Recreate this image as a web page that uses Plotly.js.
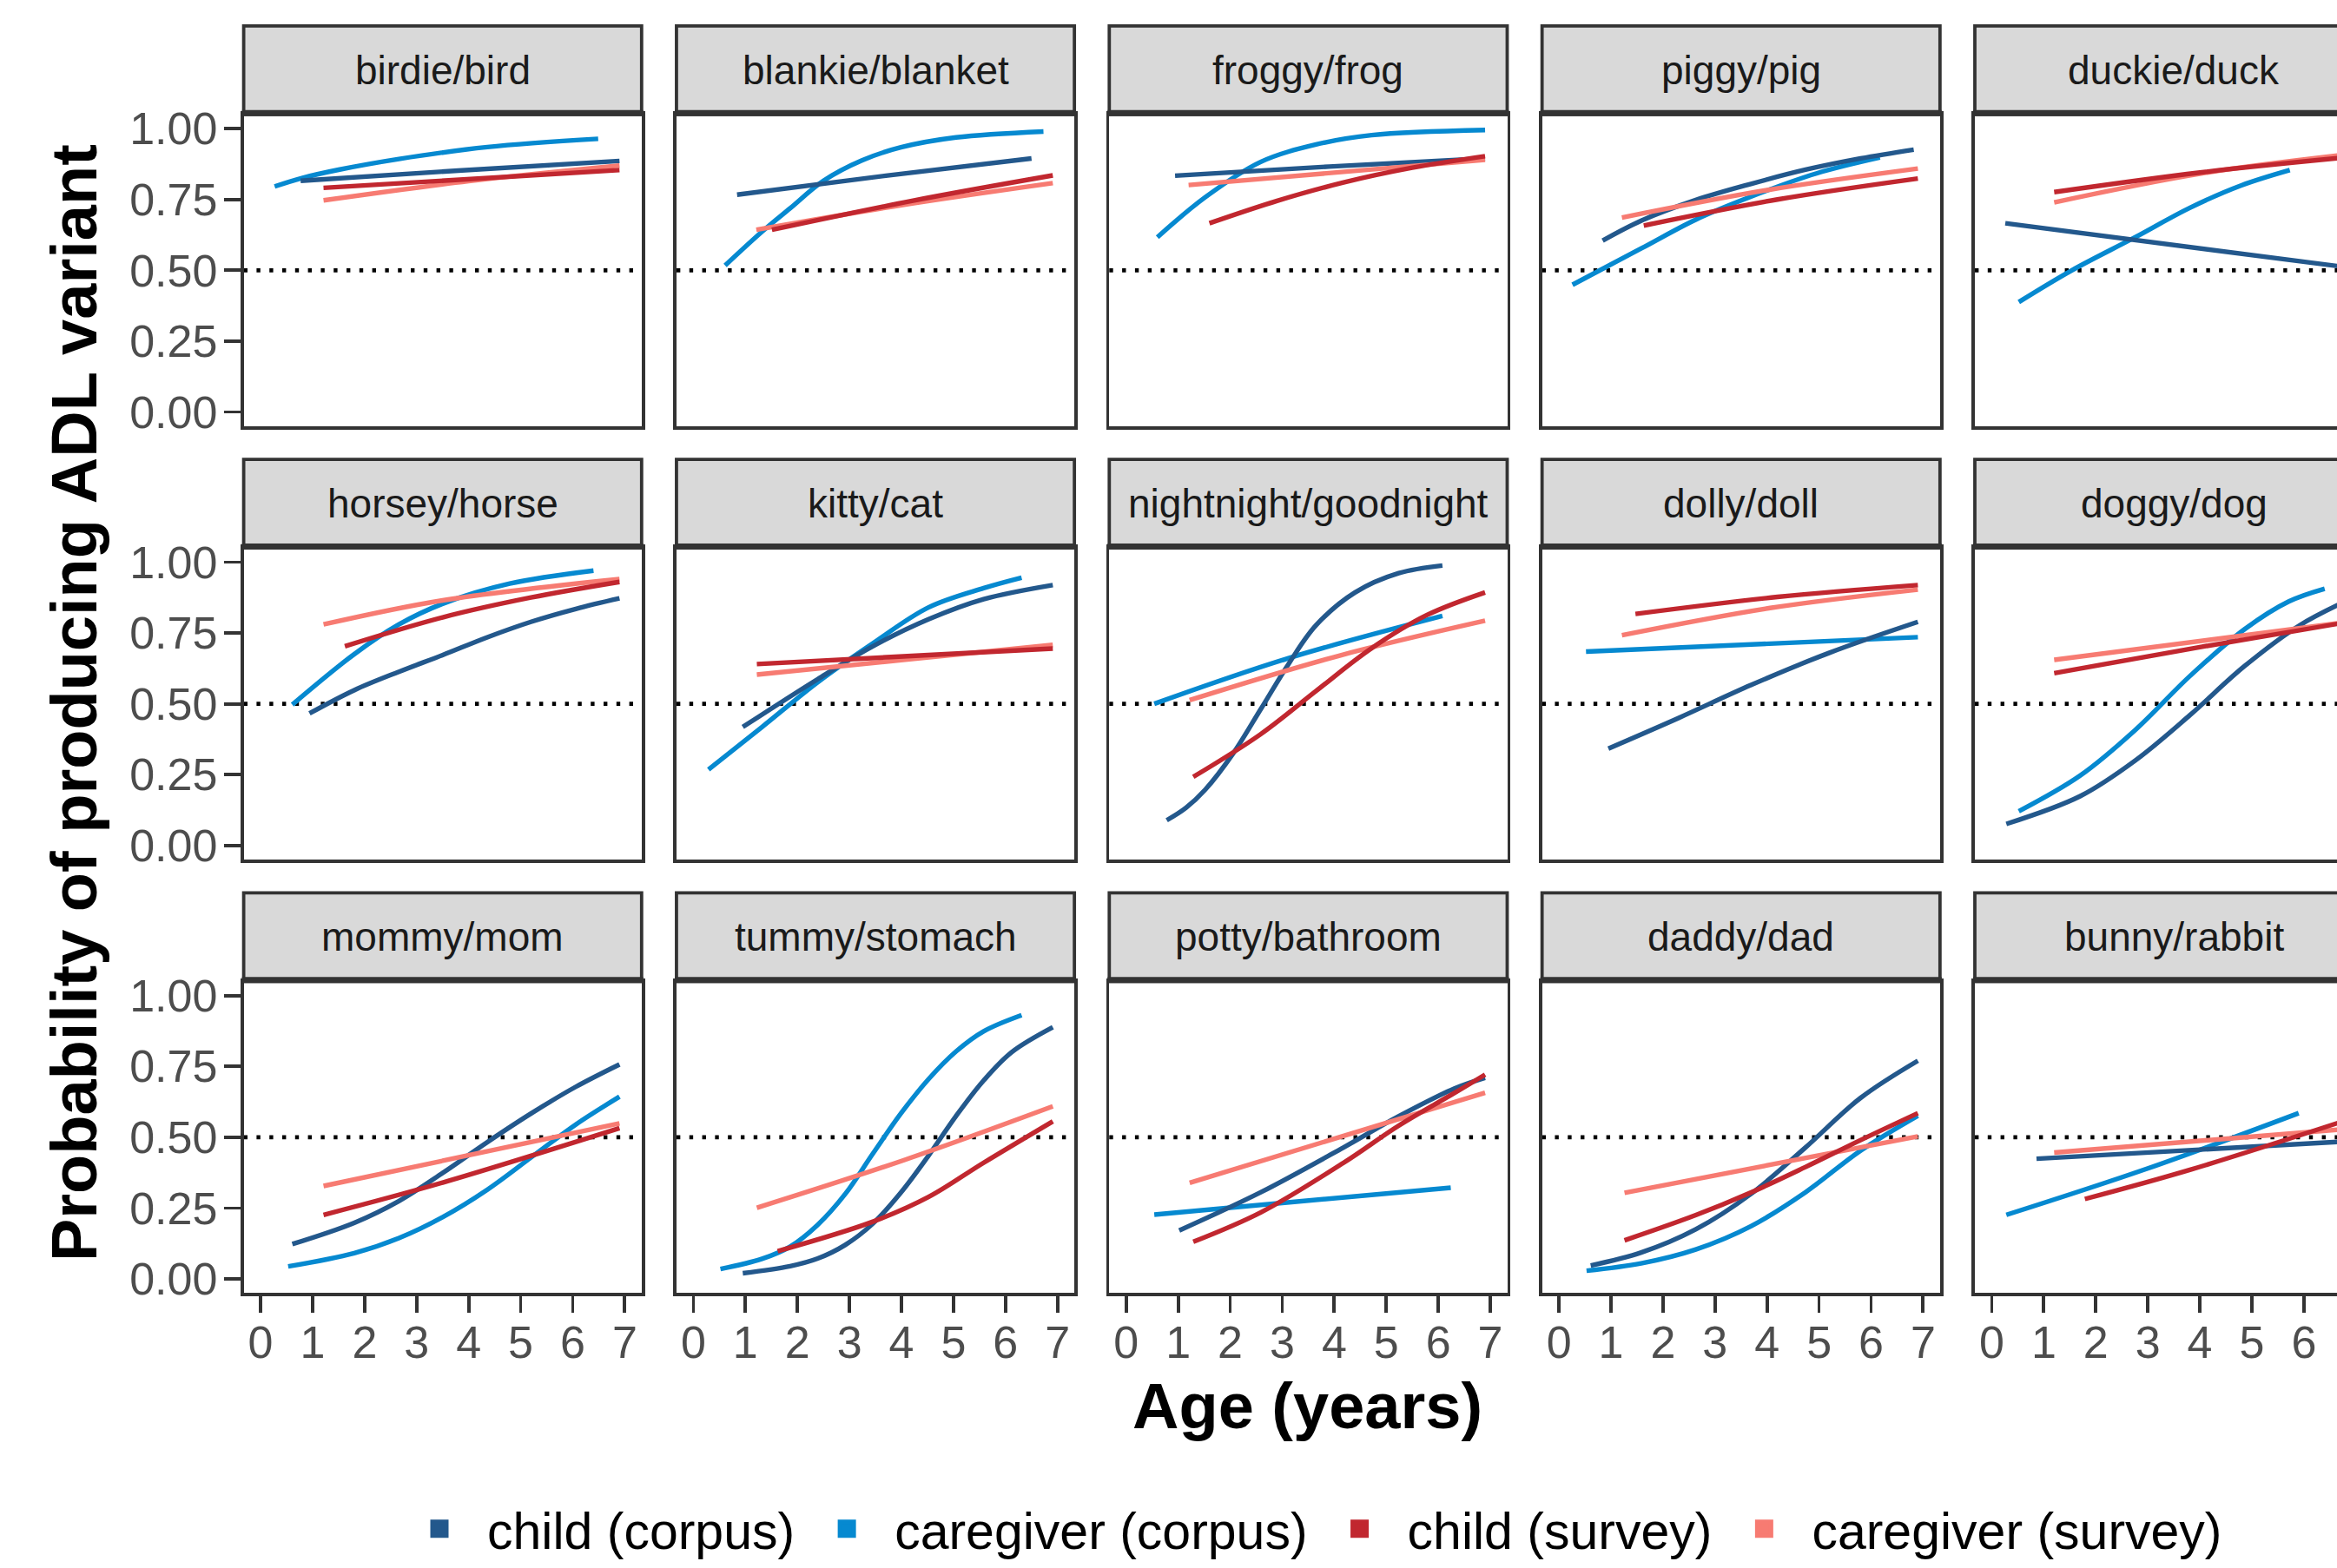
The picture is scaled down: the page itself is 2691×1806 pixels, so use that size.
<!DOCTYPE html>
<html>
<head>
<meta charset="utf-8">
<script src="https://cdn.plot.ly/plotly-3.0.1.min.js"></script>
<style>
  html, body { margin: 0; padding: 0; overflow: hidden; background: #ffffff; }
  #wrap { width: 2691px; height: 1806px; overflow: hidden; position: relative; }
  #chart { width: 2760px; height: 1806px; }
</style>
</head>
<body>
<div id="wrap"><div id="chart"></div></div>
<script>
// ---------------- data ----------------
const panels = ["birdie/bird", "blankie/blanket", "froggy/frog", "piggy/pig", "duckie/duck",
  "horsey/horse", "kitty/cat", "nightnight/goodnight", "dolly/doll", "doggy/dog",
  "mommy/mom", "tummy/stomach", "potty/bathroom", "daddy/dad", "bunny/rabbit"];

const seriesNames = ["child (corpus)", "caregiver (corpus)", "child (survey)", "caregiver (survey)"];

const yTickValues = [0, 0.25, 0.5, 0.75, 1];
const yTickLabels = ["0.00", "0.25", "0.50", "0.75", "1.00"];
const xTickValues = [0, 1, 2, 3, 4, 5, 6, 7];
const xTickLabels = ["0", "1", "2", "3", "4", "5", "6", "7"];

const xAxisTitle = "Age (years)";
const yAxisTitle = "Probability of producing ADL variant";

// child (corpus)
const childCorpusAge = [
  [0.77, 3.8, 6.9],
  [0.84, 3.7, 6.5],
  [0.94, 3.9, 6.9],
  [0.84, 1.58, 2.63, 3.69, 4.74, 5.8, 6.82],
  [0.26, 6.9],
  [0.94, 1.8, 2.66, 3.5, 4.36, 5.21, 6.06, 6.9],
  [0.95, 2.39, 3.45, 4.52, 5.58, 6.91],
  [0.78, 1.15, 1.52, 2.05, 2.59, 3.12, 3.65, 4.4, 5.24, 6.08],
  [0.95, 2.3, 3.69, 5.2, 6.9],
  [0.28, 1.7, 2.76, 3.81, 4.86, 5.92, 6.9],
  [0.61, 1.8, 2.66, 3.5, 4.36, 5.21, 6.06, 6.9],
  [0.95, 1.86, 2.39, 2.92, 3.45, 3.99, 4.52, 5.05, 5.58, 6.12, 6.91],
  [1.02, 2.59, 4.18, 5.24, 6.31, 6.9],
  [0.61, 1.58, 2.63, 3.69, 4.74, 5.8, 6.9],
  [0.86, 6.9]
];
const childCorpusProb = [
  [0.816, 0.852, 0.886],
  [0.767, 0.834, 0.895],
  [0.834, 0.866, 0.895],
  [0.605, 0.675, 0.748, 0.805, 0.855, 0.895, 0.926],
  [0.666, 0.509],
  [0.466, 0.548, 0.613, 0.672, 0.735, 0.79, 0.835, 0.872],
  [0.418, 0.587, 0.703, 0.798, 0.869, 0.919],
  [0.089, 0.133, 0.197, 0.323, 0.482, 0.64, 0.777, 0.893, 0.961, 0.988],
  [0.342, 0.45, 0.566, 0.68, 0.789],
  [0.076, 0.174, 0.30, 0.46, 0.633, 0.777, 0.87],
  [0.123, 0.198, 0.275, 0.374, 0.483, 0.585, 0.678, 0.757],
  [0.02, 0.045, 0.072, 0.12, 0.195, 0.305, 0.435, 0.575, 0.70, 0.80, 0.888],
  [0.171, 0.306, 0.464, 0.574, 0.672, 0.71],
  [0.047, 0.093, 0.175, 0.3, 0.464, 0.639, 0.77],
  [0.424, 0.486]
];

// caregiver (corpus)
const caregiverCorpusAge = [
  [0.27, 0.78, 1.5, 2.66, 4.36, 6.49],
  [0.61, 1.33, 1.86, 2.5, 3.24, 3.99, 5.05, 6.73],
  [0.6, 1.52, 2.59, 3.65, 4.72, 6.9],
  [0.26, 1.58, 2.63, 3.69, 4.95, 6.17],
  [0.52, 1.54, 2.76, 3.8, 4.8, 5.73],
  [0.61, 1.8, 2.66, 3.5, 4.79, 6.4],
  [0.29, 1.32, 2.39, 3.45, 4.52, 5.58, 6.31],
  [0.54, 3.12, 6.08],
  [0.52, 6.9],
  [0.52, 1.7, 2.76, 3.81, 4.86, 5.71, 6.4],
  [0.53, 1.8, 2.66, 3.5, 4.36, 5.21, 6.06, 6.9],
  [0.52, 1.32, 1.86, 2.39, 2.92, 3.45, 3.99, 4.52, 5.05, 5.58, 6.31],
  [0.54, 6.24],
  [0.53, 1.58, 2.63, 3.69, 4.74, 5.8, 6.9],
  [0.28, 3.0, 5.9]
];
const caregiverCorpusProb = [
  [0.796, 0.825, 0.855, 0.893, 0.935, 0.964],
  [0.517, 0.638, 0.719, 0.816, 0.888, 0.934, 0.969, 0.99],
  [0.617, 0.758, 0.883, 0.944, 0.977, 0.995],
  [0.449, 0.577, 0.679, 0.76, 0.842, 0.898],
  [0.388, 0.5, 0.617, 0.72, 0.8, 0.854],
  [0.497, 0.675, 0.78, 0.853, 0.924, 0.97],
  [0.268, 0.418, 0.576, 0.713, 0.84, 0.908, 0.945],
  [0.50, 0.661, 0.81],
  [0.684, 0.735],
  [0.121, 0.247, 0.408, 0.598, 0.763, 0.861, 0.906],
  [0.044, 0.091, 0.144, 0.218, 0.315, 0.43, 0.545, 0.643],
  [0.035, 0.071, 0.114, 0.191, 0.3, 0.442, 0.584, 0.705, 0.803, 0.874, 0.931],
  [0.227, 0.322],
  [0.029, 0.055, 0.104, 0.186, 0.306, 0.453, 0.576],
  [0.226, 0.39, 0.585]
];

// child (survey)
const childSurveyAge = [
  [1.21, 6.9],
  [1.51, 4.2, 6.91],
  [1.6, 2.9, 4.18, 5.5, 6.9],
  [1.63, 4.2, 6.9],
  [1.2, 4.0, 6.9],
  [1.62, 3.5, 5.2, 6.9],
  [1.22, 6.91],
  [1.29, 2.58, 3.65, 4.71, 5.78, 6.9],
  [1.47, 4.2, 6.9],
  [1.2, 4.0, 6.9],
  [1.21, 3.5, 6.9],
  [1.62, 3.45, 4.52, 5.58, 6.91],
  [1.29, 2.59, 4.18, 5.24, 6.31, 6.9],
  [1.26, 2.63, 3.69, 4.74, 5.8, 6.9],
  [1.79, 3.81, 6.9]
];
const childSurveyProb = [
  [0.791, 0.854],
  [0.643, 0.745, 0.835],
  [0.666, 0.745, 0.81, 0.862, 0.903],
  [0.658, 0.75, 0.824],
  [0.776, 0.845, 0.9],
  [0.703, 0.805, 0.875, 0.93],
  [0.64, 0.695],
  [0.242, 0.392, 0.545, 0.695, 0.813, 0.893],
  [0.817, 0.877, 0.919],
  [0.608, 0.70, 0.79],
  [0.226, 0.34, 0.532],
  [0.098, 0.202, 0.289, 0.41, 0.556],
  [0.131, 0.235, 0.41, 0.541, 0.656, 0.721],
  [0.136, 0.225, 0.305, 0.395, 0.49, 0.585],
  [0.282, 0.385, 0.565]
];

// caregiver (survey)
const caregiverSurveyAge = [
  [1.21, 4.0, 6.9],
  [1.21, 4.0, 6.91],
  [1.2, 6.9],
  [1.21, 4.0, 6.9],
  [1.2, 4.0, 6.9],
  [1.21, 3.5, 6.9],
  [1.22, 6.91],
  [1.22, 4.06, 6.9],
  [1.21, 4.06, 6.9],
  [1.2, 6.9],
  [1.21, 6.9],
  [1.22, 4.06, 6.91],
  [1.22, 6.9],
  [1.26, 6.9],
  [1.2, 6.9]
];
const caregiverSurveyProb = [
  [0.747, 0.815, 0.870],
  [0.643, 0.73, 0.808],
  [0.801, 0.89],
  [0.686, 0.783, 0.859],
  [0.74, 0.841, 0.91],
  [0.78, 0.865, 0.94],
  [0.603, 0.708],
  [0.513, 0.668, 0.793],
  [0.742, 0.838, 0.903],
  [0.655, 0.79],
  [0.328, 0.549],
  [0.251, 0.42, 0.609],
  [0.339, 0.657],
  [0.304, 0.503],
  [0.446, 0.53]
];

// ---------------- styling / geometry ----------------
const FW = 2760, FH = 1806;
const FONT = "Liberation Sans, Arial, Helvetica, sans-serif";
const colors = {
  cc: "#23588C",
  gc: "#0689D0",
  cs: "#C1272F",
  gs: "#F77B72"
};
const NCOL = 5;
const colLeft0 = 280.6, colPitch = 498.35, panelW = 458.2;
const rowTop0 = 132.0, rowPitch = 499.8, panelH = 359.4;
const stripH = 102.0;
const xRange = [-0.325, 7.325];
const yRange = [-0.05, 1.05];
const LINE_W = 5.4;
const FRAME_W = 3.8;

const px = v => v / FW;
const py = v => 1 - v / FH;

const series = [
  { key: "gc", name: seriesNames[1], ages: caregiverCorpusAge, probs: caregiverCorpusProb },
  { key: "cc", name: seriesNames[0], ages: childCorpusAge, probs: childCorpusProb },
  { key: "gs", name: seriesNames[3], ages: caregiverSurveyAge, probs: caregiverSurveyProb },
  { key: "cs", name: seriesNames[2], ages: childSurveyAge, probs: childSurveyProb }
];

const traces = [];
const layout = {
  width: FW, height: FH,
  margin: { l: 0, r: 0, t: 0, b: 0, pad: 0 },
  paper_bgcolor: "#ffffff",
  plot_bgcolor: "#ffffff",
  font: { family: FONT, color: "#000000" },
  showlegend: true,
  legend: {
    orientation: "h",
    x: px(451), xanchor: "left",
    y: py(1763), yanchor: "middle",
    font: { family: FONT, size: 59, color: "#000000" },
    itemwidth: 100,
    bgcolor: "rgba(0,0,0,0)",
    traceorder: "normal"
  },
  shapes: [],
  annotations: []
};

panels.forEach((name, i) => {
  const r = Math.floor(i / NCOL), c = i % NCOL;
  const sfx = i === 0 ? "" : String(i + 1);
  const left = colLeft0 + c * colPitch;
  const top = rowTop0 + r * rowPitch;
  const bottom = top + panelH;

  const xa = {
    domain: [px(left), px(left + panelW)],
    range: xRange,
    anchor: "y" + sfx,
    showgrid: false, zeroline: false,
    showline: true, mirror: true, linecolor: "#333333", linewidth: FRAME_W,
    ticks: r === 2 ? "outside" : "",
    ticklen: 19, tickwidth: FRAME_W, tickcolor: "#333333",
    tickmode: "array", tickvals: xTickValues, ticktext: xTickLabels,
    showticklabels: r === 2,
    tickfont: { family: FONT, size: 52, color: "#4D4D4D" },
    ticklabelstandoff: -11,
    fixedrange: true
  };
  const ya = {
    domain: [py(bottom), py(top)],
    range: yRange,
    anchor: "x" + sfx,
    showgrid: false, zeroline: false,
    showline: true, mirror: true, linecolor: "#333333", linewidth: FRAME_W,
    ticks: c === 0 ? "outside" : "",
    ticklen: 19, tickwidth: FRAME_W, tickcolor: "#333333",
    tickmode: "array", tickvals: yTickValues, ticktext: yTickLabels,
    showticklabels: c === 0,
    tickfont: { family: FONT, size: 52, color: "#4D4D4D" },
    ticklabelstandoff: -3,
    fixedrange: true
  };
  layout["xaxis" + sfx] = xa;
  layout["yaxis" + sfx] = ya;

  // reference line at 0.5
  layout.shapes.push({
    type: "line", layer: "below",
    xref: "x" + sfx + " domain", x0: 0, x1: 1,
    yref: "y" + sfx, y0: 0.5, y1: 0.5,
    line: { color: "#000000", width: 4.6, dash: "4.4px,10.4px" }
  });

  // strip
  layout.shapes.push({
    type: "rect", layer: "above",
    xref: "paper", yref: "paper",
    x0: px(left), x1: px(left + panelW),
    y0: py(top), y1: py(top - stripH),
    fillcolor: "#D9D9D9",
    line: { color: "#333333", width: FRAME_W }
  });
  layout.shapes.push({
    type: "line", layer: "above",
    xref: "paper", yref: "paper",
    x0: px(left - 1.9), x1: px(left + panelW + 1.9),
    y0: py(top - 1.6), y1: py(top - 1.6),
    line: { color: "#333333", width: 7 }
  });
  layout.annotations.push({
    xref: "paper", yref: "paper",
    x: px(left + panelW / 2), y: py(top - stripH / 2),
    xanchor: "center", yanchor: "middle",
    text: name, showarrow: false,
    font: { family: FONT, size: 46, color: "#1A1A1A" }
  });

  series.forEach(s => {
    traces.push({
      type: "scatter", mode: "lines",
      x: s.ages[i], y: s.probs[i],
      xaxis: "x" + sfx, yaxis: "y" + sfx,
      line: { color: colors[s.key], width: LINE_W, shape: "spline", smoothing: 1 },
      name: s.name, showlegend: false, hoverinfo: "skip"
    });
  });
});

// legend entries (square keys) in legend order
[["cc", 0], ["gc", 1], ["cs", 2], ["gs", 3]].forEach(([k, idx]) => {
  traces.push({
    type: "scatter", mode: "markers",
    x: [null], y: [null], xaxis: "x", yaxis: "y",
    name: seriesNames[idx],
    marker: { symbol: "square", size: 16, color: colors[k], line: { color: colors[k], width: 5 } },
    showlegend: true, hoverinfo: "skip"
  });
});

// axis titles
layout.annotations.push({
  xref: "paper", yref: "paper",
  x: px(85), y: py(811), xanchor: "center", yanchor: "middle",
  text: yAxisTitle, textangle: -90, showarrow: false,
  font: { family: FONT, size: 74, color: "#000000", weight: "bold" }
});
layout.annotations.push({
  xref: "paper", yref: "paper",
  x: px(1506), y: py(1621), xanchor: "center", yanchor: "middle",
  text: xAxisTitle, showarrow: false,
  font: { family: FONT, size: 74, color: "#000000", weight: "bold" }
});

Plotly.newPlot("chart", traces, layout, { displayModeBar: false, staticPlot: true });
</script>
</body>
</html>
